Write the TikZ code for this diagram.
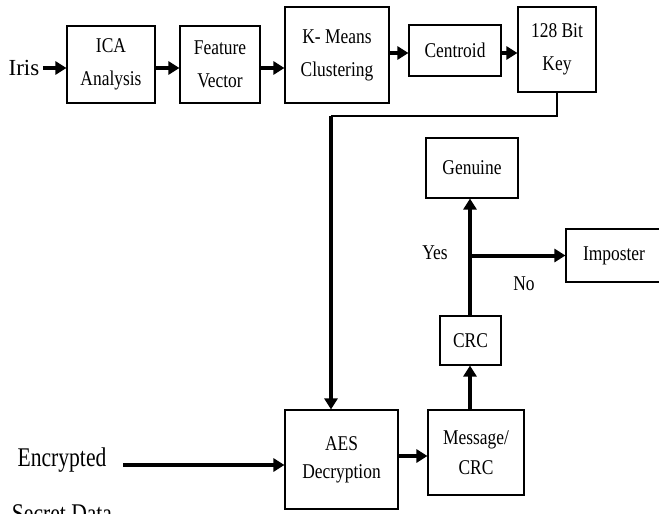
\documentclass[tikz,border=0pt]{standalone}
\usepackage{fontspec}
\setmainfont{Liberation Serif}[FakeStretch=0.83]
\newfontfamily\wideserif{Liberation Serif}
\newfontfamily\narrowserif{Liberation Serif}[FakeStretch=0.8]
\usetikzlibrary{positioning, arrows.meta}

\begin{document}
\begin{tikzpicture}[
		x=1pt, y=-1pt,
		block/.style={rectangle, draw, line width=1.1pt, inner sep=0pt, align=center, font=\fontsize{21}{33}\selectfont},
		flow/.style={-{Triangle[length=11pt, width=13pt]}, line width=4pt},
		thinline/.style={line width=1.1pt},
		mylabel/.style={font=\fontsize{21}{25}\selectfont},
	]
	\useasboundingbox (0,0) rectangle (659,514);

	\node[block, minimum width=88pt, minimum height=77pt] (ica) at (111,64.5) {ICA\\Analysis};
	\node[block, minimum width=80pt, minimum height=77pt] (feat) at (220,64.5) {Feature\\Vector};
	\node[block, minimum width=104pt, minimum height=96pt] (kmeans) at (337,55) {K- Means\\Clustering};
	\node[block, minimum width=92pt, minimum height=51pt] (centroid) at (455,50.5) {Centroid};
	\node[block, minimum width=78pt, minimum height=85pt] (key) at (557,49.5) {128 Bit\\Key};
	\node[font=\wideserif\fontsize{23}{28}\selectfont] (iris) at (24,68) {Iris};

	\node[block, minimum width=113pt, minimum height=99pt, font=\fontsize{21}{28}\selectfont] (aes) at (341.5,459.5) {AES\\Decryption};
	\node[block, minimum width=96pt, minimum height=85pt, font=\fontsize{21}{30}\selectfont] (msg) at (476,452.5) {Message/\\CRC};
	\node[block, minimum width=61pt, minimum height=49pt] (crc) at (470.5,340.5) {CRC};
	\node[block, minimum width=92pt, minimum height=60pt] (genuine) at (472,168) {Genuine};
	\node[block, minimum width=96pt, minimum height=53pt] (imposter) at (614,255.5) {Imposter};
	\node[mylabel] (yes) at (435,253) {Yes};
	\node[mylabel] (no) at (524,284) {No};
	\node[align=center, font=\narrowserif\fontsize{27}{56}\selectfont] (enc) at (62,485) {Encrypted\\Secret Data};

	\coordinate (bend) at (331,116);

	\foreach \i/\j in {iris/ica, ica/feat}
		\draw[flow] (\i.east |- 0,68) -- (\j.west |- 0,68);
	\draw[flow] (feat.east |- 0,68) -- (kmeans.west |- 0,68);
	\foreach \i/\j in {kmeans/centroid, centroid/key}
		\draw[flow] (\i.east |- 0,53) -- (\j.west |- 0,53);

	\draw[thinline] (key.south) |- (bend);
	\draw[flow] (bend) -- (bend |- aes.north);
	\draw[flow] (123,465) -- (aes.west |- 0,465);
	\draw[flow] (aes.east |- 0,456) -- (msg.west |- 0,456);
	\draw[flow] (msg.north -| 470,0) -- (crc.south -| 470,0);
	\draw[flow] (crc.north -| 470,0) -- (genuine.south -| 470,0);
	\draw[flow] (crc.north -| 470,0) |- (imposter.west);

\end{tikzpicture}
\end{document}
